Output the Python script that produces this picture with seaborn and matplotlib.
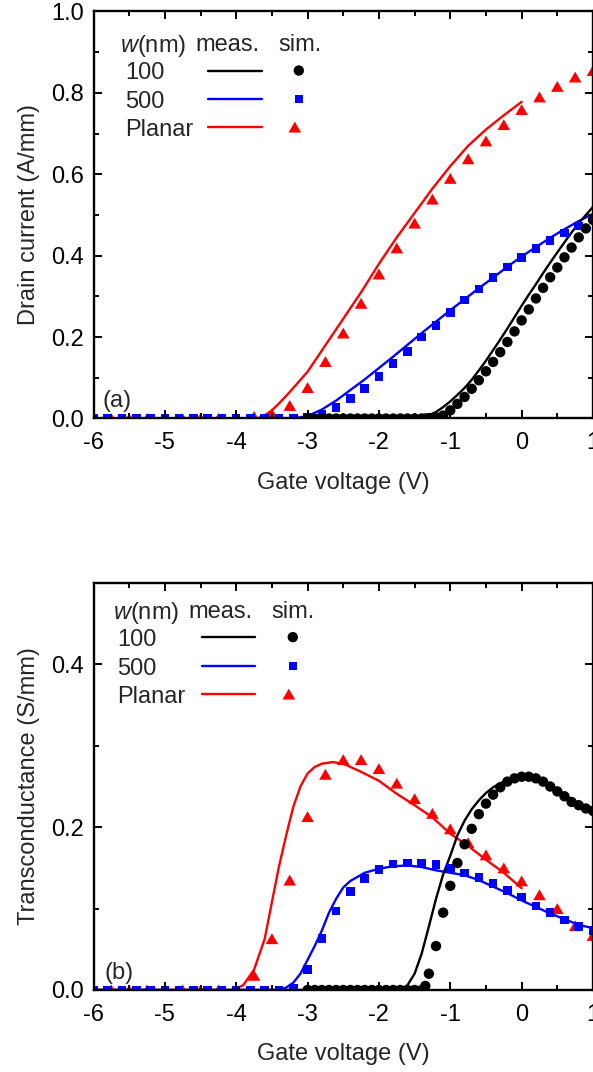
import numpy as np
import matplotlib
matplotlib.use("Agg")
import matplotlib.pyplot as plt
from matplotlib.path import Path
from matplotlib.markers import MarkerStyle
from matplotlib.ticker import MultipleLocator
import seaborn as sns

# ---------------- data ----------------
# simulated gate sweeps (V)
v_sim_100 = [-3.0, -2.9, -2.8, -2.7, -2.6, -2.5, -2.4, -2.3, -2.2, -2.1, -2.0,
             -1.9, -1.8, -1.7, -1.6, -1.5, -1.4, -1.35, -1.3, -1.2, -1.1, -1.0,
             -0.9, -0.8, -0.7, -0.6, -0.5, -0.4, -0.3, -0.2, -0.1, 0.0, 0.1,
             0.2, 0.3, 0.4, 0.5, 0.6, 0.7, 0.8, 0.9, 1.0]
v_sim_500 = [-6.0, -5.8, -5.6, -5.4, -5.2, -5.0, -4.8, -4.6, -4.4, -4.2, -4.0,
             -3.8, -3.6, -3.4, -3.2, -3.0, -2.8, -2.6, -2.4, -2.2, -2.0, -1.8,
             -1.6, -1.4, -1.2, -1.0, -0.8, -0.6, -0.4, -0.2, 0.0, 0.2, 0.4,
             0.6, 0.8, 1.0]
v_sim_planar = [-6.0, -5.75, -5.5, -5.25, -5.0, -4.75, -4.5, -4.25, -4.0,
                -3.75, -3.5, -3.25, -3.0, -2.75, -2.5, -2.25, -2.0, -1.75,
                -1.5, -1.25, -1.0, -0.75, -0.5, -0.25, 0.0, 0.25, 0.5, 0.75,
                1.0]

# (a) drain current, simulation (A/mm)
id_sim_100 = [0, 0, 0, 0, 0, 0, 0, 0, 0, 0, 0, 0, 0, 0, 0, 0, 0,
              0.000, 0.001, 0.003, 0.007, 0.020, 0.036, 0.053, 0.073, 0.094,
              0.116, 0.139, 0.163, 0.188, 0.214, 0.241, 0.268, 0.295, 0.321,
              0.347, 0.371, 0.396, 0.420, 0.445, 0.467, 0.488]
id_sim_500 = [0, 0, 0, 0, 0, 0, 0, 0, 0, 0, 0, 0, 0, 0, 0,
              0.003, 0.010, 0.027, 0.049, 0.074, 0.103, 0.135, 0.165, 0.200,
              0.229, 0.261, 0.291, 0.318, 0.347, 0.372, 0.396, 0.418, 0.438,
              0.456, 0.473, 0.490]
id_sim_planar = [0, 0, 0, 0, 0, 0, 0, 0, 0,
                 0.005, 0.012, 0.032, 0.076, 0.140, 0.210, 0.283, 0.355,
                 0.419, 0.480, 0.539, 0.590, 0.638, 0.682, 0.722, 0.759,
                 0.790, 0.816, 0.839, 0.855]

# (a) drain current, measurement (A/mm)
v_meas_a_100 = [-6.0, -1.5, -1.4, -1.3, -1.2, -1.1, -1.0, -0.9, -0.8, -0.7,
                -0.6, -0.5, -0.4, -0.3, -0.2, -0.1, 0.0, 0.1, 0.2, 0.3, 0.4,
                0.5, 0.6, 0.7, 0.8, 0.9, 1.0]
id_meas_100 = [0, 0, 0.002, 0.008, 0.016, 0.028, 0.042, 0.058, 0.075, 0.095,
               0.118, 0.142, 0.168, 0.194, 0.221, 0.249, 0.277, 0.304, 0.330,
               0.357, 0.383, 0.408, 0.433, 0.457, 0.480, 0.500, 0.520]
v_meas_a_500 = [-6.0, -3.2, -3.0, -2.8, -2.6, -2.4, -2.2, -2.0, -1.8, -1.6,
                -1.4, -1.2, -1.0, -0.8, -0.6, -0.4, -0.2, 0.0, 0.2, 0.4, 0.6,
                0.8, 1.0]
id_meas_500 = [0, 0, 0.006, 0.022, 0.044, 0.070, 0.096, 0.124, 0.152, 0.181,
               0.210, 0.238, 0.266, 0.293, 0.320, 0.346, 0.373, 0.398, 0.421,
               0.444, 0.465, 0.485, 0.503]
v_meas_a_planar = [-6.0, -3.7, -3.6, -3.5, -3.4, -3.25, -3.1, -3.0, -2.75,
                   -2.5, -2.25, -2.0, -1.75, -1.5, -1.25, -1.0, -0.75, -0.5,
                   -0.25, 0.0]
id_meas_planar = [0, 0, 0.008, 0.020, 0.037, 0.065, 0.095, 0.115, 0.180,
                  0.245, 0.310, 0.380, 0.445, 0.505, 0.565, 0.620, 0.670,
                  0.710, 0.745, 0.778]

# (b) transconductance, simulation (S/mm)
gm_sim_100 = [0, 0, 0, 0, 0, 0, 0, 0, 0, 0, 0, 0, 0, 0, 0, 0, 0,
              0.005, 0.020, 0.054, 0.095, 0.128, 0.156, 0.179, 0.198, 0.216,
              0.229, 0.240, 0.249, 0.256, 0.260, 0.262, 0.262, 0.260, 0.256,
              0.250, 0.244, 0.238, 0.231, 0.227, 0.223, 0.220]
gm_sim_500 = [0, 0, 0, 0, 0, 0, 0, 0, 0, 0, 0, 0, 0, 0,
              0.002, 0.025, 0.063, 0.097, 0.121, 0.137, 0.148, 0.155, 0.156,
              0.156, 0.154, 0.149, 0.144, 0.138, 0.131, 0.122, 0.114, 0.103,
              0.095, 0.086, 0.078, 0.073]
gm_sim_planar = [0, 0, 0, 0, 0, 0, 0, 0, 0,
                 0.018, 0.063, 0.135, 0.213, 0.265, 0.283, 0.283, 0.272,
                 0.254, 0.235, 0.217, 0.198, 0.181, 0.166, 0.150, 0.134,
                 0.117, 0.100, 0.079, 0.067]

# (b) transconductance, measurement (S/mm)
v_meas_b_100 = [-6.0, -1.7, -1.6, -1.5, -1.4, -1.3, -1.2, -1.1, -1.0, -0.9,
                -0.8, -0.7, -0.6, -0.5, -0.4, -0.3, -0.2, -0.1, 0.0, 0.2, 0.4,
                0.6, 0.8, 1.0]
gm_meas_100 = [0, 0, 0.006, 0.020, 0.045, 0.078, 0.112, 0.142, 0.165, 0.190,
               0.208, 0.222, 0.233, 0.242, 0.249, 0.254, 0.258, 0.261, 0.263,
               0.261, 0.252, 0.240, 0.229, 0.221]
v_meas_b_500 = [-6.0, -3.4, -3.3, -3.2, -3.1, -3.0, -2.9, -2.8, -2.7, -2.6,
                -2.5, -2.4, -2.2, -2.0, -1.8, -1.6, -1.4, -1.2, -1.0, -0.8,
                -0.6, -0.4, -0.2, 0.0, 0.2, 0.4, 0.6, 0.8, 1.0]
gm_meas_500 = [0, 0, 0.003, 0.009, 0.020, 0.037, 0.054, 0.073, 0.095, 0.112,
               0.126, 0.134, 0.144, 0.149, 0.152, 0.153, 0.151, 0.147, 0.144,
               0.141, 0.135, 0.127, 0.119, 0.110, 0.102, 0.094, 0.087, 0.080,
               0.076]
v_meas_b_planar = [-6.0, -4.05, -3.9, -3.75, -3.6, -3.5, -3.4, -3.3, -3.2,
                   -3.1, -3.0, -2.9, -2.8, -2.65, -2.5, -2.25, -2.0, -1.75,
                   -1.5, -1.25, -1.0, -0.75, -0.5, -0.25, 0.0]
gm_meas_planar = [0, 0, 0.006, 0.025, 0.063, 0.108, 0.152, 0.190, 0.225,
                  0.250, 0.266, 0.274, 0.278, 0.280, 0.278, 0.268, 0.257,
                  0.241, 0.227, 0.212, 0.192, 0.177, 0.160, 0.144, 0.125]

legend_rows = ["100", "500", "Planar"]

# ---------------- style ----------------
sns.set_style("ticks")
plt.rcParams["font.family"] = ["Liberation Sans", "DejaVu Sans"]
plt.rcParams["mathtext.fontset"] = "custom"
plt.rcParams["mathtext.rm"] = "Liberation Sans"
plt.rcParams["mathtext.it"] = "Liberation Sans:italic"
plt.rcParams["axes.unicode_minus"] = False

FS = 17
LW = 1.7
BLACK, BLUE, RED = "#000000", "#0000ff", "#ff0000"

tri_marker = MarkerStyle(Path([(0, 0.433), (-0.5, -0.433), (0.5, -0.433),
                               (0, 0.433)], closed=True))
styles = {
    "100": dict(color=BLACK, marker="o", s=56),
    "500": dict(color=BLUE, marker="s", s=38),
    "Planar": dict(color=RED, marker=tri_marker, s=82),
}

W, H = 593, 1072
fig = plt.figure(figsize=(W / 100, H / 100), dpi=100)
ax_a = fig.add_axes([93.5 / W, 1 - 418.5 / H, 499.5 / W, 407 / H])
ax_b = fig.add_axes([93.5 / W, 1 - 990 / H, 499.5 / W, 407 / H])


def draw_panel(ax, meas, sim):
    for key, (vx, vy) in meas.items():
        sns.lineplot(x=vx, y=vy, ax=ax, color=styles[key]["color"],
                     linewidth=LW, estimator=None, errorbar=None,
                     legend=False, zorder=2)
    for key in ["Planar", "500", "100"]:
        vx, vy = sim[key]
        st = styles[key]
        sns.scatterplot(x=vx, y=vy, ax=ax, color=st["color"],
                        marker=st["marker"], s=st["s"], edgecolor="none",
                        linewidth=0, legend=False, zorder=3)


def style_axes(ax, ymax, ylabel, tag):
    ax.set_xlim(-6, 1)
    ax.set_ylim(0, ymax)
    ax.xaxis.set_major_locator(MultipleLocator(1))
    ax.xaxis.set_minor_locator(MultipleLocator(0.5))
    ax.yaxis.set_major_locator(MultipleLocator(0.2))
    ax.yaxis.set_minor_locator(MultipleLocator(0.1))
    ax.tick_params(which="both", direction="in", top=True, right=True,
                   width=1.4, colors="black", labelsize=FS)
    ax.tick_params(which="major", length=5.5)
    ax.tick_params(which="minor", length=3.6)
    ax.tick_params(axis="x", pad=10)
    ax.tick_params(axis="y", pad=7)
    for sp in ax.spines.values():
        sp.set_linewidth(1.7)
        sp.set_color("black")
        sp.set_zorder(5)
    ax.xaxis.set_zorder(5)
    ax.yaxis.set_zorder(5)
    ax.set_xlabel("Gate voltage (V)", fontsize=FS)
    ax.set_ylabel(ylabel, fontsize=FS)
    ax.xaxis.set_label_coords(0.5, -0.131)
    ax.yaxis.set_label_coords(-0.108, 0.5)
    ax.text(tag[1], tag[2], tag[0], transform=ax.transAxes, fontsize=FS,
            ha="left", va="center_baseline")


def legend_block(ax, x0, xm, xs, y_head, rows_y, x_lab, line_x, mark_x):
    kw = dict(transform=ax.transAxes, fontsize=FS, va="center_baseline",
              ha="left")
    ax.text(x0, y_head, r"$w$(nm)", **kw)
    ax.text(xm, y_head, "meas.", **kw)
    ax.text(xs, y_head, "sim.", **kw)
    for key, yy in zip(legend_rows, rows_y):
        st = styles[key]
        ax.text(x_lab, yy, key, **kw)
        ax.plot(line_x, [yy, yy], color=st["color"], lw=LW,
                transform=ax.transAxes, clip_on=False)
        mx = mark_x[1] if key == "Planar" else mark_x[0]
        ax.scatter([mx], [yy], marker=st["marker"], s=st["s"],
                   color=st["color"], edgecolor="none",
                   transform=ax.transAxes, clip_on=False, zorder=4)


draw_panel(ax_a,
           {"Planar": (v_meas_a_planar, id_meas_planar),
            "500": (v_meas_a_500, id_meas_500),
            "100": (v_meas_a_100, id_meas_100)},
           {"Planar": (v_sim_planar, id_sim_planar),
            "500": (v_sim_500, id_sim_500),
            "100": (v_sim_100, id_sim_100)})
draw_panel(ax_b,
           {"Planar": (v_meas_b_planar, gm_meas_planar),
            "500": (v_meas_b_500, gm_meas_500),
            "100": (v_meas_b_100, gm_meas_100)},
           {"Planar": (v_sim_planar, gm_sim_planar),
            "500": (v_sim_500, gm_sim_500),
            "100": (v_sim_100, gm_sim_100)})

style_axes(ax_a, 1.0, "Drain current (A/mm)", ("(a)", 0.019, 0.050))
style_axes(ax_b, 0.5, "Transconductance (S/mm)", ("(b)", 0.023, 0.049))

legend_block(ax_a, 0.053, 0.205, 0.371, 0.923, [0.855, 0.785, 0.716],
             0.063, [0.229, 0.337], (0.411, 0.403))
legend_block(ax_b, 0.039, 0.191, 0.357, 0.936, [0.867, 0.796, 0.727],
             0.047, [0.217, 0.323], (0.399, 0.391))

fig.savefig("out.png", dpi=100)
